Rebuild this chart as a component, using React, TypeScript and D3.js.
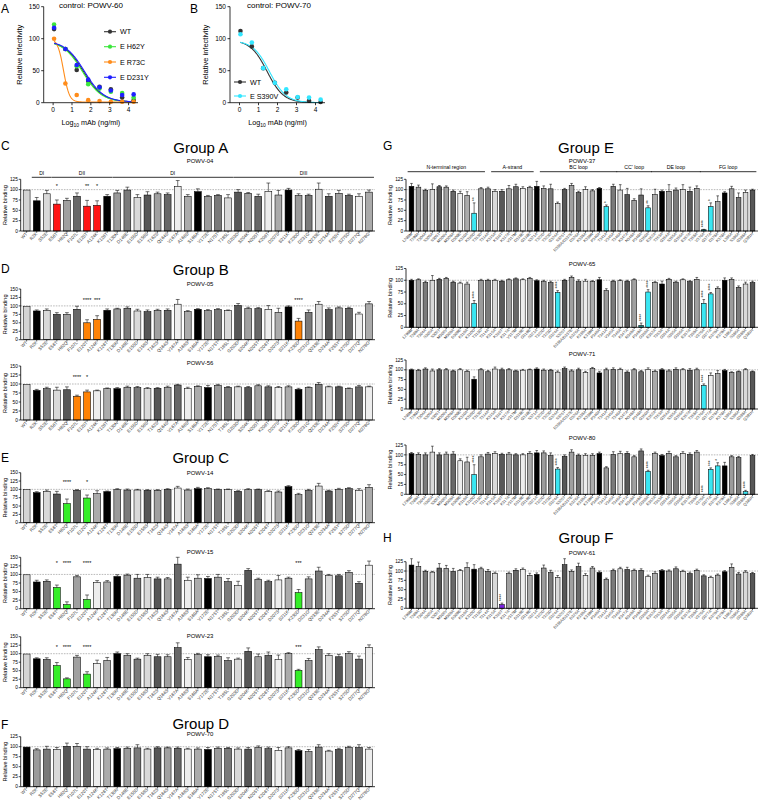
import React from "react";
import * as d3 from "d3";

const FONT = "'Liberation Sans', Arial, Helvetica, sans-serif";

// ---------- Panels A / B (dose response) ----------
const logDose = [0.05, 0.65, 1.25, 1.86, 2.46, 3.06, 3.66, 4.27];
const aWT = [115, 84, 51, 34, 25, 21, 8, 4];
const aH62Y = [122, 84, 57, 29, 22, 17, 15, 8];
const aR73C = [100, 30, 12, 4, 2.6, 1.6, 1.6, 1.6];
const aD231Y = [117, 84, 59, 36, 24, 19, 12, 13];
const bWT = [112, 88, 54, 31, 16, 8, 3, 1];
const bS390V = [107, 94, 54, 31, 21, 9, 8, 5];
// fitted curve parameters: [top, bottom, logIC50, hill]
const fitAWT = [97, 1, 1.6, 0.85];
const fitAH62Y = [97, 1, 1.55, 0.85];
const fitAR73C = [100, 1, 0.55, 2.8];
const fitAD231Y = [97, 1, 1.66, 0.85];
const fitBWT = [98, 0, 1.45, 1.0];
const fitBS390V = [97, 0, 1.58, 1.0];
const aNames = ["WT", "E H62Y", "E R73C", "E D231Y"];
const bNames = ["WT", "E S390V"];
const doseTicks = [0, 1, 2, 3, 4];
const infTicks = [0, 50, 100, 150];

// ---------- Left column bar panels (E protein DI/DII/DIII mutants) ----------
const leftCats = ["WT", "R2K", "S52E", "E56T", "H62Q", "F107L", "E120T", "A124K", "K126T", "T130N", "D148E", "E155D", "E158S", "T162S", "Q164S", "V167A", "A168S", "S169A", "V172E", "N175T", "T185L", "G203D", "S204K", "N205T", "K206T", "D207S", "S211K", "K230D", "D231G", "Q233E", "D234A", "F255Y", "S275D", "D277Q", "N278G"];
const powv04 = [99, 73, 90, 65, 74, 84, 60, 62, 84, 92, 99, 81, 87, 90, 88, 108, 84, 95, 84, 86, 80, 94, 91, 84, 96, 87, 99, 86, 86, 101, 84, 91, 86, 84, 94];
const powv04Err = [0, 8, 8, 10, 5, 8, 14, 11, 4, 6, 7, 7, 8, 4, 4, 14, 4, 7, 2, 2, 8, 6, 2, 5, 20, 11, 4, 4, 3, 15, 6, 7, 3, 6, 5];
const powv05 = [99, 85, 87, 75, 75, 90, 50, 60, 87, 91, 93, 85, 83, 87, 87, 105, 83, 90, 86, 89, 86, 101, 92, 92, 90, 81, 97, 55, 81, 105, 89, 94, 93, 76, 106];
const powv05Err = [0, 3, 4, 5, 5, 9, 9, 11, 4, 2, 4, 5, 5, 3, 4, 14, 3, 2, 3, 3, 2, 6, 4, 3, 11, 12, 3, 8, 7, 8, 5, 3, 3, 5, 7];
const powv56 = [99, 82, 87, 83, 84, 66, 78, 81, 87, 87, 91, 90, 87, 88, 91, 97, 87, 93, 90, 96, 91, 92, 90, 95, 92, 90, 92, 85, 90, 99, 92, 92, 87, 92, 92];
const powv56Err = [0, 3, 4, 8, 8, 3, 5, 2, 2, 3, 3, 3, 3, 2, 3, 2, 4, 2, 6, 3, 2, 2, 3, 3, 3, 3, 3, 3, 2, 5, 2, 2, 2, 4, 2];
const powv14 = [99, 90, 94, 86, 57, 97, 74, 87, 93, 99, 98, 98, 97, 97, 100, 104, 98, 102, 102, 99, 99, 94, 99, 99, 94, 92, 108, 84, 97, 110, 95, 100, 102, 97, 106];
const powv14Err = [0, 3, 4, 8, 14, 2, 9, 9, 2, 3, 3, 2, 2, 2, 2, 5, 3, 4, 3, 2, 2, 2, 3, 2, 2, 3, 3, 4, 3, 8, 2, 3, 3, 5, 8];
const powv15 = [99, 78, 80, 62, 12, 93, 27, 77, 78, 94, 98, 89, 91, 87, 87, 130, 83, 89, 88, 92, 79, 68, 112, 86, 79, 84, 89, 47, 87, 110, 97, 96, 106, 74, 127];
const powv15Err = [0, 5, 4, 7, 8, 4, 13, 5, 4, 5, 3, 11, 9, 5, 4, 20, 9, 10, 6, 8, 9, 12, 5, 3, 4, 13, 3, 9, 6, 11, 3, 4, 5, 5, 12];
const powv23 = [99, 85, 83, 65, 26, 90, 40, 71, 80, 100, 95, 84, 95, 91, 91, 118, 83, 97, 91, 92, 80, 84, 107, 91, 95, 83, 100, 51, 80, 112, 95, 91, 100, 84, 118];
const powv23Err = [0, 3, 5, 9, 3, 5, 7, 10, 9, 5, 5, 3, 5, 7, 6, 14, 6, 4, 6, 4, 8, 3, 10, 8, 10, 13, 3, 3, 6, 8, 5, 7, 6, 9, 8];
const powv70 = [99, 92, 94, 93, 101, 101, 94, 93, 94, 95, 96, 97, 94, 97, 97, 96, 94, 94, 93, 96, 96, 94, 94, 98, 95, 91, 97, 90, 88, 99, 89, 93, 98, 98, 94];
const powv70Err = [0, 3, 7, 5, 8, 7, 6, 3, 3, 3, 3, 8, 2, 3, 2, 3, 2, 3, 5, 3, 2, 3, 4, 4, 4, 7, 3, 3, 5, 6, 2, 3, 3, 7, 4];

// ---------- Right column bar panels (DIII mutants) ----------
const rightCats = ["L298M", "T299A", "T304A", "S305A", "S305T", "M306V", "M308A", "D309E", "K310A", "K310D", "T313D", "T314A", "K315A", "K316T", "K317A", "V317M", "D318E", "G319E", "S321A", "T322D", "T323D", "G324A", "S325T", "D336A/D337E", "D326A", "K338A", "K339R", "P340A", "T341A", "V345A", "T346A", "K347A", "N348A", "P349A", "G350A", "E352A", "T353A", "G354A", "S355A", "G356A", "E357A", "T358A", "V376A", "G377A", "D378A", "K379A", "L385A", "S386A", "G388A", "Q391H"];
const powv37 = [108, 106, 98, 100, 107, 106, 96, 91, 86, 43, 102, 102, 96, 96, 102, 107, 103, 105, 108, 103, 102, 66, 100, 110, 93, 100, 97, 103, 59, 108, 99, 88, 74, 87, 56, 88, 96, 96, 99, 100, 96, 103, 3, 59, 71, 92, 102, 81, 93, 99];
const powv37Err = [7, 5, 3, 14, 3, 3, 3, 5, 9, 25, 3, 4, 4, 4, 8, 6, 4, 3, 12, 6, 11, 4, 3, 5, 3, 7, 3, 2, 4, 5, 13, 15, 4, 15, 5, 13, 3, 16, 5, 12, 10, 6, 1, 9, 14, 3, 6, 11, 6, 2];
const powv65 = [100, 101, 95, 100, 102, 104, 96, 94, 92, 51, 100, 100, 100, 98, 101, 103, 101, 104, 99, 97, 95, 74, 100, 106, 97, 98, 97, 101, 78, 98, 99, 98, 101, 4, 75, 95, 92, 102, 96, 101, 97, 102, 51, 71, 83, 100, 102, 85, 92, 95];
const powv65Err = [2, 2, 3, 10, 2, 2, 2, 2, 4, 6, 2, 2, 2, 2, 2, 2, 2, 2, 2, 3, 3, 4, 2, 3, 4, 4, 2, 5, 4, 2, 2, 2, 2, 5, 5, 2, 6, 2, 2, 2, 2, 4, 8, 3, 3, 5, 3, 3, 4, 3];
const powv71 = [100, 98, 102, 97, 100, 100, 97, 100, 96, 76, 100, 95, 102, 100, 100, 97, 99, 100, 102, 99, 99, 94, 103, 97, 100, 93, 103, 92, 100, 101, 101, 94, 100, 95, 101, 96, 100, 97, 101, 100, 99, 100, 60, 86, 90, 98, 93, 95, 100, 95];
const powv71Err = [2, 3, 3, 5, 3, 3, 2, 3, 3, 6, 3, 3, 5, 4, 3, 2, 2, 2, 3, 3, 2, 3, 4, 3, 4, 3, 3, 4, 4, 4, 3, 3, 3, 3, 4, 3, 3, 3, 4, 3, 4, 4, 4, 6, 8, 3, 2, 2, 3, 2];
const powv80 = [103, 101, 100, 107, 100, 102, 102, 85, 82, 50, 95, 102, 104, 101, 102, 100, 100, 104, 105, 105, 98, 64, 96, 107, 98, 99, 99, 103, 67, 101, 103, 104, 95, 110, 58, 103, 98, 104, 95, 104, 101, 107, 0, 63, 72, 72, 95, 93, 7, 98];
const powv80Err = [3, 4, 5, 15, 5, 5, 6, 5, 12, 25, 5, 4, 4, 3, 4, 3, 3, 4, 6, 5, 7, 4, 4, 6, 4, 4, 4, 4, 3, 7, 6, 4, 3, 5, 3, 4, 3, 5, 3, 4, 4, 4, 0, 4, 8, 9, 3, 3, 3, 3];
const powv61 = [116, 112, 99, 97, 108, 107, 99, 101, 110, 105, 106, 99, 94, 10, 93, 102, 104, 88, 91, 108, 96, 83, 117, 99, 112, 88, 108, 96, 78, 101, 106, 104, 102, 102, 86, 94, 101, 100, 106, 99, 93, 102, 87, 83, 89, 98, 110, 92, 97, 93];
const powv61Err = [17, 12, 3, 2, 12, 8, 8, 3, 12, 12, 4, 5, 3, 4, 4, 4, 4, 6, 4, 8, 6, 5, 16, 4, 9, 5, 4, 4, 3, 4, 4, 6, 3, 4, 3, 4, 3, 3, 5, 3, 4, 3, 3, 3, 3, 3, 9, 4, 4, 3];

// significance marks: [bar index, label]
const stars04: [number, string][] = [[3, "*"], [6, "**"], [7, "*"]];
const stars05: [number, string][] = [[6, "****"], [7, "***"], [27, "****"]];
const stars56: [number, string][] = [[5, "****"], [6, "*"]];
const stars14: [number, string][] = [[4, "****"], [6, "*"]];
const stars15: [number, string][] = [[3, "*"], [4, "****"], [6, "****"], [27, "***"]];
const stars23: [number, string][] = [[3, "*"], [4, "****"], [6, "****"], [27, "***"]];
const stars37: [number, string][] = [[9, "**"], [28, "*"], [34, "**"], [42, "****"], [43, "*"]];
const stars65: [number, string][] = [[9, "****"], [21, "****"], [33, "****"], [34, "****"], [42, "****"], [43, "****"]];
const stars71: [number, string][] = [[42, "****"]];
const stars80: [number, string][] = [[9, "****"], [21, "****"], [34, "****"], [42, "****"], [43, "***"], [44, "*"], [48, "****"]];
const stars61: [number, string][] = [[13, "****"]];

// domain brackets: [first bar, last bar, label]
const leftDomains: [number, number, string][] = [[1, 2, "DI"], [3, 8, "DII"], [9, 20, "DI"], [21, 34, "DIII"]];
const rightDomains: [number, number, string][] = [[0, 10, "N-terminal region"], [12, 17, "A-strand"], [19, 29, "BC loop"], [30, 34, "CC' loop"], [35, 41, "DE loop"], [42, 49, "FG loop"]];

// ---------- styles ----------
const GRAYS = ["#9b9b9b", "#7a7a7a", "#d9d9d9", "#575757", "#a0a0a0", "#686868", "#ededed", "#ababab", "#000000"];
const RED = "#ff1414";
const ORANGE = "#ff8205";
const GREEN = "#35ee28";
const CYAN = "#3ae6f2";
const TEAL = "#1f8c8c";
const PURPLE = "#7a22e0";

function barColors(n: number, phase: number, special: Record<number, string>) {
  return d3.range(n).map((i) => special[i] ?? GRAYS[(i + phase) % 9]);
}

function hill(x: number, p: number[]) {
  const [top, bottom, ic, h] = p;
  return bottom + (top - bottom) / (1 + Math.pow(10, (x - ic) * h));
}

type DoseProps = {
  x0: number; x1: number; yTop: number; yZero: number;
  series: number[][]; fits: number[][]; colors: string[]; names: string[];
  title: string; titleX: number;
  legX: number; legY: number[];
};

function DosePanel(p: DoseProps) {
  const sx = d3.scaleLinear().domain([-0.5, 4.5]).range([p.x0, p.x1]);
  const sy = d3.scaleLinear().domain([0, 150]).range([p.yZero, p.yTop]);
  const xsFine = d3.range(0.05, 4.31, 0.02);
  const line = (fit: number[]) =>
    d3.line<number>().x((d) => sx(d)).y((d) => sy(Math.max(0, hill(d, fit))))(xsFine) || "";
  const midX = (p.x0 + p.x1) / 2;
  const midY = (p.yZero + p.yTop) / 2;
  return (
    <g>
      <text x={p.titleX} y={8} fontSize={8} textAnchor="middle">{p.title}</text>
      {p.fits.map((f, k) => (
        <path key={"f" + k} d={line(f)} fill="none" stroke={p.colors[k]} strokeWidth={1.1} />
      ))}
      {p.series.map((s, k) =>
        s.map((v, i) => (
          <circle key={"c" + k + "_" + i} cx={sx(logDose[i])} cy={sy(v)} r={2.3} fill={p.colors[k]} />
        ))
      )}
      <line x1={p.x0} x2={p.x0} y1={p.yTop} y2={p.yZero} stroke="#000" strokeWidth={0.8} />
      <line x1={p.x0} x2={p.x1} y1={p.yZero} y2={p.yZero} stroke="#000" strokeWidth={0.8} />
      {infTicks.map((t) => (
        <g key={"yt" + t}>
          <line x1={p.x0 - 2.5} x2={p.x0} y1={sy(t)} y2={sy(t)} stroke="#000" strokeWidth={0.8} />
          <text x={p.x0 - 4} y={sy(t)} dy="0.35em" fontSize={6.5} textAnchor="end">{t}</text>
        </g>
      ))}
      {doseTicks.map((t) => (
        <g key={"xt" + t}>
          <line x1={sx(t)} x2={sx(t)} y1={p.yZero} y2={p.yZero + 2.5} stroke="#000" strokeWidth={0.8} />
          <text x={sx(t)} y={p.yZero + 9.5} fontSize={6.5} textAnchor="middle">{t}</text>
        </g>
      ))}
      <text x={midX} y={p.yZero + 22} fontSize={7.2} textAnchor="middle">
        Log<tspan fontSize={5} dy={2}>10</tspan><tspan dy={-2}> mAb (ng/ml)</tspan>
      </text>
      <text transform={`translate(${p.x0 - 22},${midY}) rotate(-90)`} fontSize={7.5} textAnchor="middle">Relative infectivity</text>
      {p.names.map((n, k) => (
        <g key={"lg" + k}>
          <line x1={p.legX} x2={p.legX + 12} y1={p.legY[k]} y2={p.legY[k]} stroke={p.colors[k]} strokeWidth={1.1} />
          <circle cx={p.legX + 6} cy={p.legY[k]} r={2.1} fill={p.colors[k]} />
          <text x={p.legX + 16} y={p.legY[k]} dy="0.35em" fontSize={7.2}>{n}</text>
        </g>
      ))}
    </g>
  );
}

type BarProps = {
  cats: string[]; vals: number[]; errs: number[]; colors: string[];
  x0: number; x1: number; yTop: number; yZero: number; yMax: number;
  title: string; titleX: number; titleY: number;
  stars: [number, string][]; starVal?: number; vertical?: boolean;
  labelSize: number; padOuter: number; yTitleX: number;
  domains?: [number, number, string][]; domainY?: number; domainSize?: number;
};

function BarPanel(p: BarProps) {
  const n = p.cats.length;
  const x = d3.scaleBand<number>().domain(d3.range(n)).range([p.x0, p.x1]).paddingInner(0.32).paddingOuter(p.padOuter);
  const y = d3.scaleLinear().domain([0, p.yMax]).range([p.yZero, p.yTop]);
  const bw = x.bandwidth();
  const ticks = d3.range(0, p.yMax + 1, 25);
  const cx = (i: number) => (x(i) as number) + bw / 2;
  return (
    <g>
      <text x={p.titleX} y={p.titleY} fontSize={6} textAnchor="middle">{p.title}</text>
      {p.domains && p.domains.map(([a, b, lab], k) => (
        <g key={"d" + k}>
          <line x1={(x(a) as number) - 1.5} x2={(x(b) as number) + bw + 1.5} y1={p.domainY} y2={p.domainY} stroke="#000" strokeWidth={0.8} />
          <text x={((x(a) as number) + (x(b) as number) + bw) / 2} y={(p.domainY as number) - 2.6} fontSize={p.domainSize} textAnchor="middle">{lab}</text>
        </g>
      ))}
      <line x1={p.x0} x2={p.x1} y1={y(100)} y2={y(100)} stroke="#8c8c8c" strokeWidth={0.6} strokeDasharray="1.6,1.1" />
      {p.vals.map((v, i) => (
        <rect key={"b" + i} x={x(i)} y={y(v)} width={bw} height={Math.max(0, p.yZero - y(v))} fill={p.colors[i]} stroke="#000" strokeWidth={0.55} />
      ))}
      {p.vals.map((v, i) =>
        p.errs[i] > 0 ? (
          <g key={"e" + i} stroke="#000" strokeWidth={0.55}>
            <line x1={cx(i)} x2={cx(i)} y1={y(v)} y2={y(v + p.errs[i])} />
            <line x1={cx(i) - bw * 0.28} x2={cx(i) + bw * 0.28} y1={y(v + p.errs[i])} y2={y(v + p.errs[i])} />
          </g>
        ) : null
      )}
      {p.stars.map(([i, s], k) =>
        p.vertical ? (
          <text key={"s" + k} transform={`translate(${cx(i) + 1.5},${y(p.vals[i] + p.errs[i]) - 2}) rotate(-90)`} fontSize={4.6} textAnchor="start">{s}</text>
        ) : (
          <text key={"s" + k} x={cx(i)} y={y(p.starVal as number) + 2} fontSize={5.5} textAnchor="middle">{s}</text>
        )
      )}
      <line x1={p.x0} x2={p.x0} y1={p.yTop} y2={p.yZero} stroke="#000" strokeWidth={0.8} />
      <line x1={p.x0} x2={p.x1} y1={p.yZero} y2={p.yZero} stroke="#000" strokeWidth={0.8} />
      {ticks.map((t) => (
        <g key={"yt" + t}>
          <line x1={p.x0 - 2} x2={p.x0} y1={y(t)} y2={y(t)} stroke="#000" strokeWidth={0.7} />
          <text x={p.x0 - 2.8} y={y(t)} dy="0.35em" fontSize={4.8} textAnchor="end">{t}</text>
        </g>
      ))}
      {p.cats.map((c, i) => (
        <g key={"xt" + i}>
          <line x1={cx(i)} x2={cx(i)} y1={p.yZero} y2={p.yZero + 1.8} stroke="#000" strokeWidth={0.6} />
          <text transform={`translate(${cx(i) + 1},${p.yZero + 3.2}) rotate(-45)`} fontSize={p.labelSize} textAnchor="end" fill="#333">{c}</text>
        </g>
      ))}
      <text transform={`translate(${p.yTitleX},${(p.yTop + p.yZero) / 2}) rotate(-90)`} fontSize={5.6} textAnchor="middle">Relative binding</text>
    </g>
  );
}

const LEFT = { x0: 20.7, x1: 375, titleX: 200, labelSize: 4.5, padOuter: 0.25, yTitleX: 6.5 };
const RIGHT = { x0: 406, x1: 758, titleX: 582, labelSize: 3.9, padOuter: 0.45, yTitleX: 392 };
const L = "#d4d4d4";

export default function App() {
  const nL = leftCats.length;
  const nR = rightCats.length;
  return (
    <svg width={763} height={807} style={{ position: "absolute", left: 0, top: 0, background: "#fff" }} fontFamily={FONT}>
      <rect width={763} height={807} fill="#fff" />
      {/* panel letters */}
      <text x={1} y={13} fontSize={12}>A</text>
      <text x={190} y={13} fontSize={12}>B</text>
      <text x={1} y={150} fontSize={12}>C</text>
      <text x={1} y={273} fontSize={12}>D</text>
      <text x={1} y={462} fontSize={12}>E</text>
      <text x={1} y={729} fontSize={12}>F</text>
      <text x={383} y={150} fontSize={12}>G</text>
      <text x={383} y={542} fontSize={12}>H</text>

      <DosePanel x0={43.7} x1={138} yTop={6.7} yZero={102.7}
        series={[aWT, aH62Y, aR73C, aD231Y]} fits={[fitAWT, fitAH62Y, fitAR73C, fitAD231Y]}
        colors={["#333333", "#3ce63c", "#ff8c1a", "#1f1fff"]} names={aNames}
        title="control: POWV-60" titleX={91} legX={104} legY={[31.7, 46.7, 62, 77.3]} />
      <DosePanel x0={230} x1={325} yTop={6.7} yZero={102.7}
        series={[bWT, bS390V]} fits={[fitBWT, fitBS390V]}
        colors={["#333333", "#33e6ff"]} names={bNames}
        title="control: POWV-70" titleX={279} legX={234} legY={[82, 96]} />

      {/* Group titles */}
      <text x={200.8} y={152.5} fontSize={15} textAnchor="middle">Group A</text>
      <text x={200.8} y={274.5} fontSize={15} textAnchor="middle">Group B</text>
      <text x={200.8} y={463} fontSize={15} textAnchor="middle">Group C</text>
      <text x={200.8} y={729} fontSize={15} textAnchor="middle">Group D</text>
      <text x={586} y={152.5} fontSize={15} textAnchor="middle">Group E</text>
      <text x={586} y={543} fontSize={15} textAnchor="middle">Group F</text>

      <BarPanel {...LEFT} cats={leftCats} vals={powv04} errs={powv04Err}
        colors={barColors(nL, 0, { 0: L, 1: "#000", 3: RED, 6: RED, 7: RED })}
        yTop={179.3} yZero={231} yMax={125} title="POWV-04" titleY={163}
        stars={stars04} starVal={110} domains={leftDomains} domainY={177.3} domainSize={5} />
      <BarPanel {...LEFT} cats={leftCats} vals={powv05} errs={powv05Err}
        colors={barColors(nL, 0, { 0: L, 1: "#000", 6: ORANGE, 7: ORANGE, 27: ORANGE })}
        yTop={289} yZero={339.7} yMax={150} title="POWV-05" titleY={286}
        stars={stars05} starVal={118} />
      <BarPanel {...LEFT} cats={leftCats} vals={powv56} errs={powv56Err}
        colors={barColors(nL, 8, { 0: L, 1: "#000", 5: ORANGE, 6: ORANGE })}
        yTop={366} yZero={420} yMax={150} title="POWV-56" titleY={364.5}
        stars={stars56} starVal={119} />
      <BarPanel {...LEFT} cats={leftCats} vals={powv14} errs={powv14Err}
        colors={barColors(nL, 0, { 0: L, 1: "#000", 4: GREEN, 6: GREEN })}
        yTop={472.7} yZero={522.7} yMax={150} title="POWV-14" titleY={474.5}
        stars={stars14} starVal={122} />
      <BarPanel {...LEFT} cats={leftCats} vals={powv15} errs={powv15Err}
        colors={barColors(nL, 8, { 0: L, 1: "#000", 3: GREEN, 4: GREEN, 6: GREEN, 27: GREEN })}
        yTop={557.3} yZero={608.7} yMax={150} title="POWV-15" titleY={554}
        stars={stars15} starVal={133} />
      <BarPanel {...LEFT} cats={leftCats} vals={powv23} errs={powv23Err}
        colors={barColors(nL, 8, { 0: L, 1: "#000", 3: GREEN, 4: GREEN, 6: GREEN, 27: GREEN })}
        yTop={636.7} yZero={687.7} yMax={150} title="POWV-23" titleY={637.5}
        stars={stars23} starVal={121} />
      <BarPanel {...LEFT} cats={leftCats} vals={powv70} errs={powv70Err}
        colors={barColors(nL, 8, {})}
        yTop={736.7} yZero={786.7} yMax={125} title="POWV-70" titleY={736}
        stars={[]} />

      <BarPanel {...RIGHT} cats={rightCats} vals={powv37} errs={powv37Err}
        colors={barColors(nR, 8, { 9: CYAN, 28: CYAN, 34: CYAN, 42: TEAL, 43: CYAN })}
        yTop={179.3} yZero={231} yMax={125} title="POWV-37" titleY={163}
        stars={stars37} vertical domains={rightDomains} domainY={171.7} domainSize={5.2} />
      <BarPanel {...RIGHT} cats={rightCats} vals={powv65} errs={powv65Err}
        colors={barColors(nR, 8, { 9: CYAN, 21: CYAN, 33: TEAL, 34: CYAN, 42: CYAN, 43: CYAN })}
        yTop={268.5} yZero={327.3} yMax={125} title="POWV-65" titleY={266}
        stars={stars65} vertical />
      <BarPanel {...RIGHT} cats={rightCats} vals={powv71} errs={powv71Err}
        colors={barColors(nR, 8, { 42: CYAN })}
        yTop={360} yZero={409} yMax={125} title="POWV-71" titleY={356}
        stars={stars71} vertical />
      <BarPanel {...RIGHT} cats={rightCats} vals={powv80} errs={powv80Err}
        colors={barColors(nR, 8, { 9: CYAN, 21: CYAN, 34: CYAN, 43: CYAN, 44: CYAN, 48: CYAN })}
        yTop={445} yZero={494.3} yMax={125} title="POWV-80" titleY={440}
        stars={stars80} vertical />
      <BarPanel {...RIGHT} cats={rightCats} vals={powv61} errs={powv61Err}
        colors={barColors(nR, 8, { 13: PURPLE })}
        yTop={561.7} yZero={608.3} yMax={125} title="POWV-61" titleY={555}
        stars={stars61} vertical />
    </svg>
  );
}
